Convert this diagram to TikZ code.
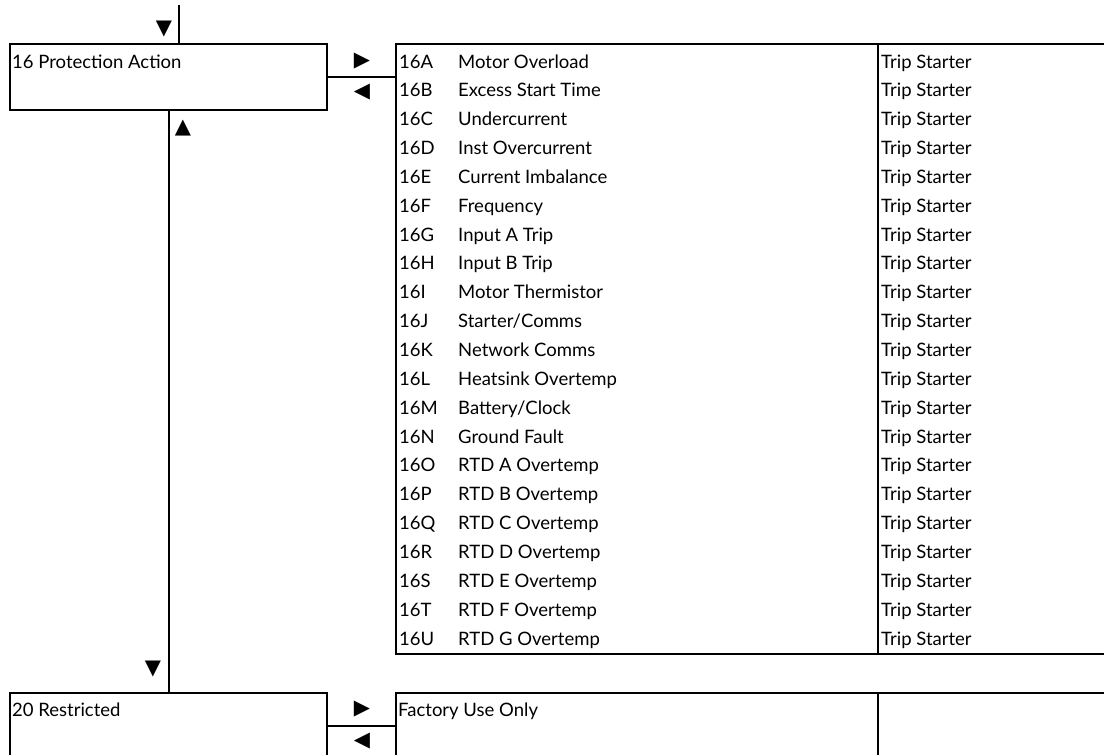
\documentclass[tikz,border=0pt]{standalone}
\usepackage{fontspec}
\setmainfont{Lato}
\newfontfamily\symfont{DejaVu Sans}
\begin{document}
\begin{tikzpicture}[x=1pt,y=-1pt,
  frame/.style={draw, line width=2.4pt, rectangle, inner sep=0pt, anchor=north west},
  lbl/.style={anchor=base west, inner sep=0pt, font=\fontsize{18.5}{20}\selectfont},
  tri/.style={inner sep=0pt, font=\symfont\fontsize{21}{21}\selectfont},
  wire/.style={line width=2.4pt}]
\useasboundingbox (0,0) rectangle (1104,755);
% boxes
\node[frame, minimum width=317pt, minimum height=66pt] (pa) at (9,43) {};
\node[frame, minimum width=716pt, minimum height=610pt] (list) at (395,43) {};
\node[frame, minimum width=317pt, minimum height=66pt] (rs) at (9,692) {};
\node[frame, minimum width=716pt, minimum height=66pt] (fu) at (395,692) {};
\draw[wire] ([xshift=483pt]list.north west) -- ([xshift=483pt]list.south west);
\draw[wire] ([xshift=483pt]fu.north west) -- ([xshift=483pt]fu.south west);
% labels
\node[lbl] (pat) at (12,68) {16 Protection Action};
\node[lbl] (rst) at (12,716) {20 Restricted};
\node[lbl] (fut) at (398,716) {Factory Use Only};
\foreach \c/\d [count=\i from 0] in {A/Motor Overload,B/Excess Start Time,C/Undercurrent,D/Inst Overcurrent,E/Current Imbalance,F/Frequency,G/Input A Trip,H/Input B Trip,I/Motor Thermistor,J/Starter\slash Comms,K/Network Comms,L/Heatsink Overtemp,M/Battery\slash Clock,N/Ground Fault,O/RTD A Overtemp,P/RTD B Overtemp,Q/RTD C Overtemp,R/RTD D Overtemp,S/RTD E Overtemp,T/RTD F Overtemp,U/RTD G Overtemp}{
  \node[lbl] (c\i) at (399,68+28.85*\i) {16\c};
  \node[lbl] (d\i) at (458,68+28.85*\i) {\d};
  \node[lbl] (a\i) at (881,68+28.85*\i) {Trip Starter};
}
% connectors
\coordinate (top) at (179,5);
\draw[wire] (top) -- (top |- pa.north);
\draw[wire] (pa.east) -- (pa.east -| list.west);
\draw[wire] (pa.south) -- (rs.north);
\draw[wire] (rs.east) -- (rs.east -| fu.west);
% arrow marks
\node[tri] (t1) at (164,29) {▼};
\node[tri] (t2) at (362,61) {▶};
\node[tri] (t3) at (362,92) {◀};
\node[tri] (t4) at (183,128) {▲};
\node[tri] (t5) at (153,669) {▼};
\node[tri] (t6) at (362,709) {▶};
\node[tri] (t7) at (362,741) {◀};
\end{tikzpicture}
\end{document}
